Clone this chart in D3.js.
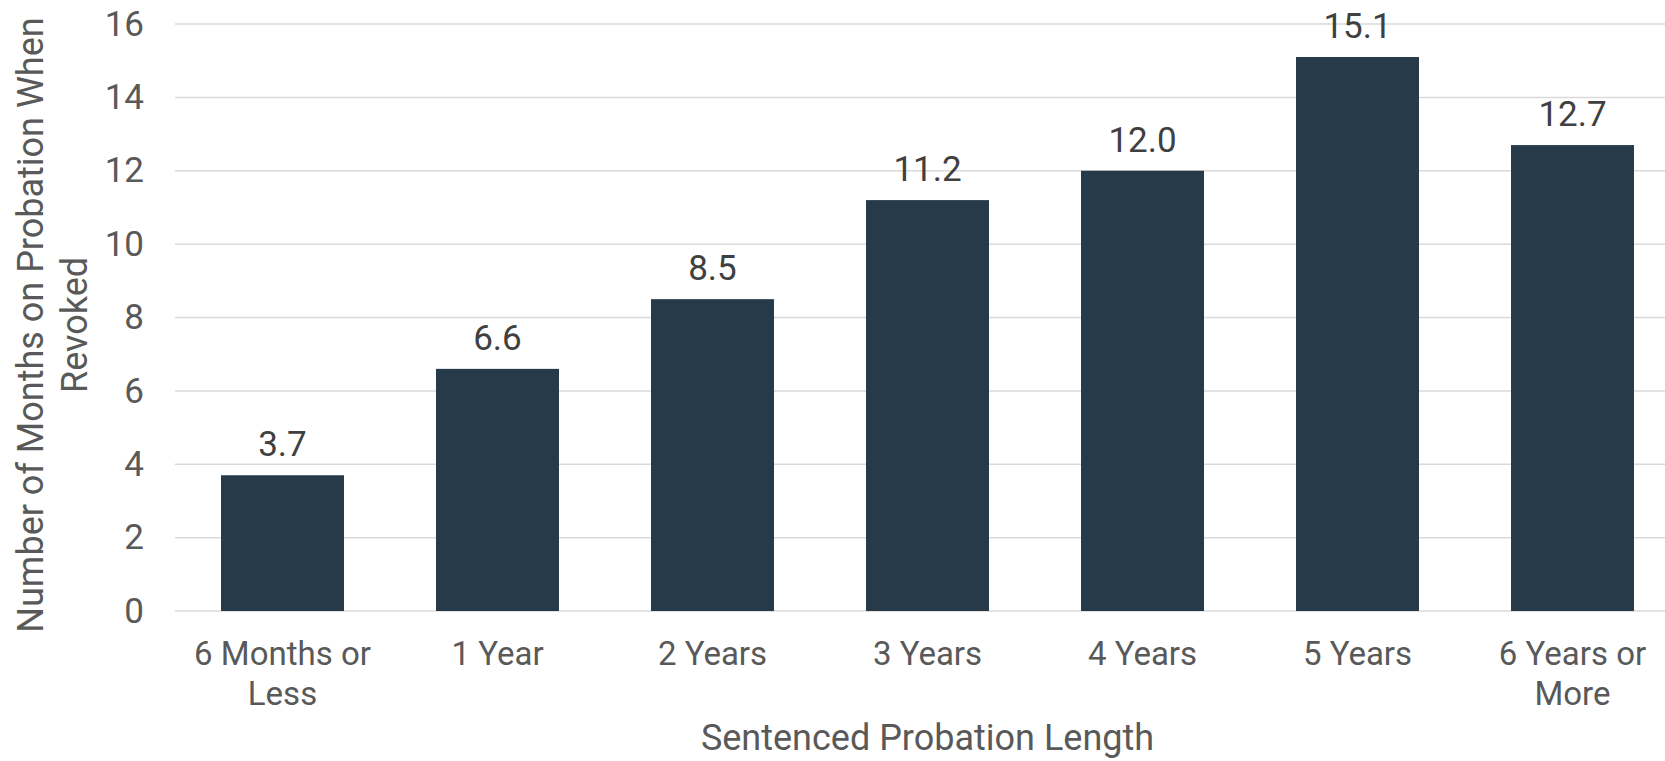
<!DOCTYPE html>
<html>
<head>
<meta charset="utf-8">
<script src="https://cdn.jsdelivr.net/npm/d3@7"></script>
<style>
  html, body { margin: 0; padding: 0; background: #fff; }
  svg { display: block; }
  text { font-family: Roboto, "Liberation Sans", Arial, sans-serif; }
</style>
</head>
<body>
<svg id="chart" width="1665" height="761"></svg>
<script>
const categories = [["6 Months or", "Less"], ["1 Year"], ["2 Years"], ["3 Years"], ["4 Years"], ["5 Years"], ["6 Years or", "More"]];
const values = [3.7, 6.6, 8.5, 11.2, 12.0, 15.1, 12.7];
const yTicks = [0, 2, 4, 6, 8, 10, 12, 14, 16];
const yTitle = ["Number of Months on Probation When", "Revoked"];
const xTitle = "Sentenced Probation Length";

(function () {
const svg = d3.select("#chart");
const mLeft = 175, mRight = 1680, mTop = 24, mBottom = 611;
const keys = categories.map((c, i) => i);

const x = d3.scaleBand().domain(keys).range([mLeft, mRight]).paddingInner(0.428).paddingOuter(0.214);
const y = d3.scaleLinear().domain([0, 16]).range([mBottom, mTop]);

const textCol = "#595959";
const numFs = 35, catFs = 33, titleFs = 36;

// gridlines
svg.append("g").selectAll("line").data(yTicks).join("line")
  .attr("x1", mLeft).attr("x2", mRight)
  .attr("y1", d => y(d)).attr("y2", d => y(d))
  .attr("stroke", "#d9d9d9").attr("stroke-width", 1.5);

// y axis tick labels
const yAxis = svg.append("g").attr("transform", `translate(${mLeft},0)`)
  .call(d3.axisLeft(y).tickValues(yTicks).tickSize(0).tickPadding(31).tickFormat(d3.format("d")));
yAxis.select(".domain").remove();
yAxis.selectAll("text").attr("font-size", numFs).attr("fill", textCol)
  .attr("font-family", "Roboto, 'Liberation Sans', Arial, sans-serif");

// bars
svg.append("g").selectAll("rect").data(values).join("rect")
  .attr("x", (d, i) => x(i)).attr("width", x.bandwidth())
  .attr("y", d => y(d)).attr("height", d => y(0) - y(d))
  .attr("fill", "#263a4a");

// value labels
svg.append("g").selectAll("text").data(values).join("text")
  .attr("x", (d, i) => x(i) + x.bandwidth() / 2)
  .attr("y", d => y(d) - 19)
  .attr("text-anchor", "middle").attr("font-size", numFs).attr("fill", "#404040")
  .text(d => d.toFixed(1));

// category labels
const xl = svg.append("g").selectAll("text").data(categories).join("text")
  .attr("text-anchor", "middle").attr("font-size", catFs).attr("fill", textCol);
xl.each(function(lines, i) {
  const t = d3.select(this);
  lines.forEach((ln, j) => {
    t.append("tspan").attr("x", x(i) + x.bandwidth() / 2).attr("y", 665 + j * 40).text(ln);
  });
});

// x title
svg.append("text").attr("x", (mLeft + mRight) / 2).attr("y", 750)
  .attr("text-anchor", "middle").attr("font-size", titleFs).attr("fill", textCol)
  .text(xTitle);

// y title
const yt = svg.append("text").attr("transform", "translate(0,325) rotate(-90)")
  .attr("text-anchor", "middle").attr("font-size", titleFs).attr("fill", textCol);
yTitle.forEach((ln, j) => {
  yt.append("tspan").attr("x", 0).attr("y", 43 + j * 44).text(ln);
});
})();
</script>
</body>
</html>
